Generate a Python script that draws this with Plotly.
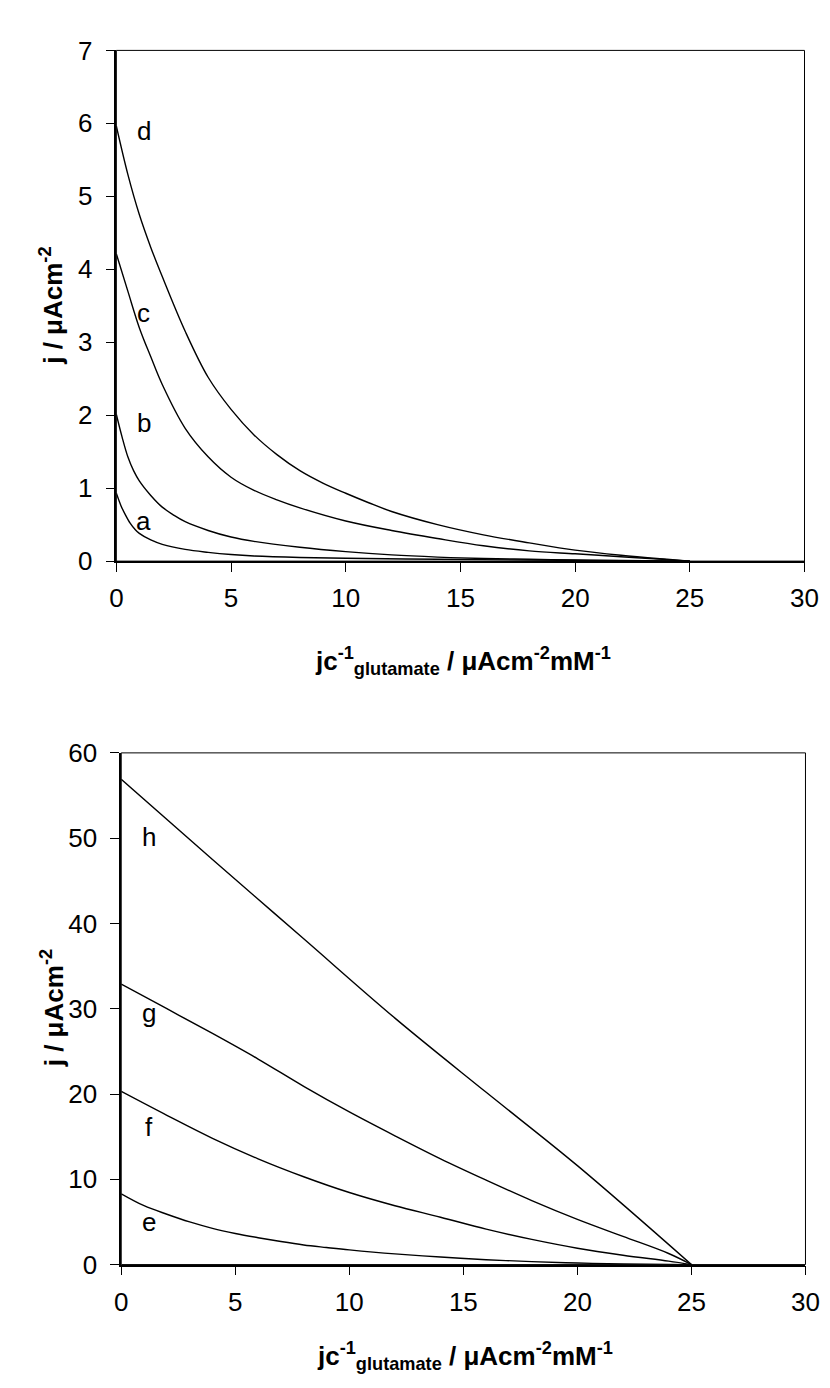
import plotly.graph_objects as go

# ---- data ----
x_a = [0, 0.2, 0.4, 0.6, 0.8, 1, 1.5, 2, 3, 4, 5, 6, 8, 10, 14, 18, 22, 25]
y_a = [0.93, 0.76, 0.63, 0.52, 0.44, 0.38, 0.29, 0.23, 0.16, 0.12, 0.09, 0.07, 0.05, 0.04, 0.025, 0.015, 0.005, 0]

x_b = [0, 0.25, 0.5, 0.75, 1, 1.5, 2, 2.5, 3, 4, 5, 6, 8, 10, 12, 14, 16, 18, 20, 22, 25]
y_b = [2.01, 1.7, 1.43, 1.24, 1.1, 0.9, 0.74, 0.63, 0.54, 0.42, 0.33, 0.27, 0.19, 0.13, 0.085, 0.055, 0.035, 0.025, 0.015, 0.008, 0]

x_c = [0, 0.5, 1, 1.5, 2, 3, 4, 5, 6, 7, 8, 10, 12, 14, 16, 18, 20, 22, 24, 25]
y_c = [4.21, 3.7, 3.2, 2.8, 2.42, 1.82, 1.43, 1.15, 0.97, 0.84, 0.73, 0.55, 0.42, 0.31, 0.21, 0.14, 0.10, 0.06, 0.02, 0]

x_d = [0, 0.5, 1, 1.5, 2, 3, 4, 5, 6, 7, 8, 9, 10, 11, 12, 14, 16, 18, 20, 22, 24, 25]
y_d = [5.96, 5.3, 4.75, 4.3, 3.9, 3.15, 2.52, 2.08, 1.73, 1.46, 1.24, 1.07, 0.93, 0.8, 0.68, 0.5, 0.36, 0.25, 0.15, 0.08, 0.025, 0]

x_e = [0, 1, 2, 3, 4, 5, 6, 7, 8, 9, 10, 12, 14, 16, 18, 20, 22, 25]
y_e = [8.3, 6.9, 5.9, 5.0, 4.25, 3.65, 3.15, 2.7, 2.3, 2.0, 1.72, 1.25, 0.88, 0.57, 0.35, 0.18, 0.07, 0]

x_f = [0, 2, 4, 6, 8, 10, 12, 14, 16, 18, 20, 22, 24, 25]
y_f = [20.3, 17.5, 14.8, 12.4, 10.3, 8.45, 6.9, 5.55, 4.15, 2.95, 1.92, 1.1, 0.4, 0]

x_g = [0, 2, 4, 6, 8, 10, 12, 14, 16, 18, 20, 22, 24, 25]
y_g = [32.9, 30.0, 27.1, 24.1, 20.9, 17.9, 15.1, 12.4, 9.9, 7.5, 5.3, 3.3, 1.3, 0]

x_h = [0, 4, 8, 12, 16, 20, 25]
y_h = [56.9, 47.5, 38.2, 28.9, 20.2, 11.6, 0]

top_labels = ["a", "b", "c", "d"]
top_label_pos = [(1.2, 0.55), (1.2, 1.89), (1.2, 3.40), (1.2, 5.89)]
bot_labels = ["e", "f", "g", "h"]
bot_label_pos = [(1.2, 5.0), (1.2, 16.1), (1.2, 29.5), (1.2, 50.1)]

x_ticks = [0, 5, 10, 15, 20, 25, 30]
y_ticks_top = [0, 1, 2, 3, 4, 5, 6, 7]
y_ticks_bot = [0, 10, 20, 30, 40, 50, 60]

W, H = 830, 1388
FONT = "Arial, Liberation Sans, sans-serif"

fig = go.Figure()
line = dict(color="black", width=1.4, shape="spline", smoothing=1.0)
for xs, ys in [(x_a, y_a), (x_b, y_b), (x_c, y_c), (x_d, y_d)]:
    fig.add_trace(go.Scatter(x=xs, y=ys, mode="lines", line=line,
                             xaxis="x", yaxis="y", showlegend=False))
for xs, ys in [(x_e, y_e), (x_f, y_f), (x_g, y_g), (x_h, y_h)]:
    fig.add_trace(go.Scatter(x=xs, y=ys, mode="lines", line=line,
                             xaxis="x2", yaxis="y2", showlegend=False))

def px(v):
    return v / W

def py(v):
    return 1 - v / H

axis_common = dict(showgrid=False, zeroline=False, showline=True, linecolor="black",
                   linewidth=1.6, ticks="outside", ticklen=9, tickwidth=1,
                   tickcolor="black", tickfont=dict(family=FONT, size=26, color="black"))

fig.update_layout(
    width=W, height=H, margin=dict(l=0, r=0, t=0, b=0),
    paper_bgcolor="white", plot_bgcolor="white",
    xaxis=dict(domain=[px(104), px(810)], range=[0, 30], tickvals=x_ticks,
               anchor="y", ticklabelstandoff=4, **axis_common),
    yaxis=dict(domain=[py(550), py(28)], range=[0, 7], tickvals=y_ticks_top,
               anchor="x", ticklabelstandoff=8, **axis_common),
    xaxis2=dict(domain=[px(109), px(811)], range=[0, 30], tickvals=x_ticks,
                anchor="y2", ticklabelstandoff=4, **axis_common),
    yaxis2=dict(domain=[py(1269), py(746)], range=[0, 60], tickvals=y_ticks_bot,
                anchor="x2", ticklabelstandoff=8, **axis_common),
)

# frame (top/right borders)
for xr, yr in [("x", "y"), ("x2", "y2")]:
    fig.add_shape(type="rect", xref=f"{xr} domain", yref=f"{yr} domain",
                  x0=0, x1=1, y0=0, y1=1, line=dict(color="black", width=1), layer="above")

lab_font = dict(family=FONT, size=26, color="black")
for t, (x, y) in zip(top_labels, top_label_pos):
    fig.add_annotation(x=x, y=y, xref="x", yref="y", text=t, showarrow=False,
                       font=lab_font, xanchor="center", yanchor="middle")
for t, (x, y) in zip(bot_labels, bot_label_pos):
    fig.add_annotation(x=x, y=y, xref="x2", yref="y2", text=t, showarrow=False,
                       font=lab_font, xanchor="center", yanchor="middle")

xtitle = "<b>jc<sup>-1</sup><sub>glutamate</sub> / μAcm<sup>-2</sup>mM<sup>-1</sup></b>"
ytitle = "<b>j / μAcm<sup>-2</sup></b>"
tfont = dict(family=FONT, size=26, color="black")

fig.add_annotation(x=px(460), y=py(652), xref="paper", yref="paper", text=xtitle,
                   showarrow=False, font=tfont, xanchor="center", yanchor="middle")
fig.add_annotation(x=px(462), y=py(1362), xref="paper", yref="paper", text=xtitle,
                   showarrow=False, font=tfont, xanchor="center", yanchor="middle")
fig.add_annotation(x=px(38), y=py(289), xref="paper", yref="paper", text=ytitle,
                   showarrow=False, font=tfont, textangle=-90, xanchor="center", yanchor="middle")
fig.add_annotation(x=px(38), y=py(1007), xref="paper", yref="paper", text=ytitle,
                   showarrow=False, font=tfont, textangle=-90, xanchor="center", yanchor="middle")

fig.write_html("out.html")
